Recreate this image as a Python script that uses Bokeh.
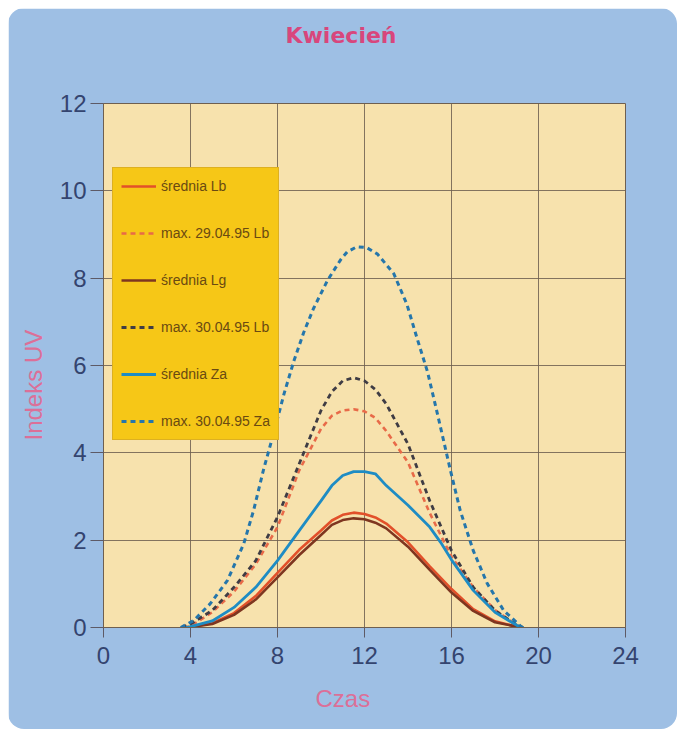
from bokeh.plotting import figure
from bokeh.models import Range1d, FixedTicker, Title
from bokeh.embed import file_html
from bokeh.resources import INLINE

# ---------------- data ----------------
title_text = "Kwiecień"
x_label = "Czas"
y_label = "Indeks UV"
x_ticks = [0, 4, 8, 12, 16, 20, 24]
y_ticks = [0, 2, 4, 6, 8, 10, 12]

series_names = ["średnia Lb", "max. 29.04.95 Lb", "średnia Lg",
                "max. 30.04.95 Lb", "średnia Za", "max. 30.04.95 Za"]

lb_mean_x = [3.8, 4, 5, 6, 7, 8, 9, 10, 10.5, 11, 11.5, 12, 12.5, 13, 14, 15, 16, 17, 18, 19, 19.2]
lb_mean_y = [0, 0.01, 0.1, 0.33, 0.72, 1.25, 1.78, 2.22, 2.45, 2.58, 2.63, 2.6, 2.52, 2.38, 1.95, 1.4, 0.88, 0.42, 0.14, 0.02, 0]

lb_max29_x = [3.7, 4, 5, 6, 7, 8, 9, 10, 10.5, 11, 11.5, 12, 12.5, 13, 14, 15, 16, 17, 18, 19, 19.3]
lb_max29_y = [0, 0.03, 0.35, 0.82, 1.45, 2.3, 3.6, 4.55, 4.85, 4.97, 5.0, 4.95, 4.8, 4.5, 3.78, 2.62, 1.62, 0.92, 0.4, 0.05, 0]

lg_mean_x = [3.8, 4, 5, 6, 7, 8, 9, 10, 10.5, 11, 11.5, 12, 12.5, 13, 14, 15, 16, 17, 18, 19, 19.2]
lg_mean_y = [0, 0.01, 0.08, 0.29, 0.64, 1.15, 1.66, 2.12, 2.35, 2.46, 2.5, 2.48, 2.4, 2.27, 1.85, 1.32, 0.8, 0.38, 0.12, 0.02, 0]

lb_max30_x = [3.6, 4, 5, 6, 7, 8, 9, 10, 10.5, 11, 11.5, 12, 12.5, 13, 14, 15, 16, 17, 18, 19, 19.3]
lb_max30_y = [0, 0.08, 0.39, 0.92, 1.53, 2.53, 3.75, 4.97, 5.4, 5.65, 5.72, 5.65, 5.45, 5.12, 4.2, 2.9, 1.76, 0.92, 0.39, 0.06, 0]

za_mean_x = [3.8, 4, 5, 6, 7, 8, 9, 10, 10.5, 11, 11.5, 12, 12.5, 13, 14, 15, 15.5, 16, 17, 18, 19, 19.3]
za_mean_y = [0, 0.02, 0.15, 0.46, 0.92, 1.53, 2.22, 2.9, 3.25, 3.48, 3.57, 3.57, 3.52, 3.25, 2.8, 2.3, 1.95, 1.55, 0.85, 0.35, 0.05, 0]

za_max30_x = [3.55, 4.15, 4.9, 5.7, 6.45, 6.9, 7.35, 7.85, 8.3, 8.75, 9.2, 9.65, 10.3, 10.9, 11.2, 11.65,
              12.1, 12.6, 13.35, 13.95, 14.4, 14.9, 15.35, 15.95, 16.4, 17.0, 17.65, 18.4, 19.25]
za_max30_y = [0, 0.16, 0.54, 1.08, 1.92, 2.68, 3.6, 4.5, 5.35, 6.1, 6.75, 7.3, 7.95, 8.42, 8.6, 8.72,
              8.7, 8.55, 8.1, 7.4, 6.65, 5.85, 4.9, 3.6, 2.68, 1.76, 1.0, 0.39, 0]

# ---------------- figure ----------------
p = figure(width=669, height=721, output_backend="svg", toolbar_location=None,
           x_range=Range1d(0, 24), y_range=Range1d(0, 12),
           min_border_left=95, min_border_right=52, min_border_top=95, min_border_bottom=102,
           border_fill_color="#9ebfe4", background_fill_color="#f7e2ad",
           outline_line_color="#6e5f50", outline_line_width=1)
p.styles = {"border-radius": "16px", "overflow": "hidden", "margin-left": "8px", "margin-top": "8px"}

tick_font = "Liberation Sans Narrow, Liberation Sans"
for ax, ticks in ((p.xaxis[0], x_ticks), (p.yaxis[0], y_ticks)):
    ax.ticker = FixedTicker(ticks=ticks)
    ax.major_label_text_font = tick_font
    ax.major_label_text_font_size = "24px"
    ax.major_label_text_color = "#34446f"
    ax.axis_line_color = "#6e5f50"
    ax.major_tick_line_color = "#5d5a66"
    ax.major_tick_in = 0
    ax.minor_tick_line_color = None
p.xaxis.major_tick_out = 10
p.xaxis.major_label_standoff = 9
p.yaxis.major_tick_out = 13
p.yaxis.major_label_standoff = 4

p.xgrid.ticker = FixedTicker(ticks=x_ticks)
p.ygrid.ticker = FixedTicker(ticks=y_ticks)
p.grid.grid_line_color = "#6e5f50"
p.grid.grid_line_width = 1
p.grid.grid_line_alpha = 0.85

styles = [
    (lb_mean_x, lb_mean_y, "#e2502a", "solid", 2.6),
    (lb_max29_x, lb_max29_y, "#e86a48", "5 4", 2.6),
    (lg_mean_x, lg_mean_y, "#7e3620", "solid", 2.6),
    (lb_max30_x, lb_max30_y, "#3f3c44", "5 4", 2.8),
    (za_mean_x, za_mean_y, "#1e8cc4", "solid", 2.8),
    (za_max30_x, za_max30_y, "#2576ab", "5 4", 3.0),
]
for name, (xs, ys, col, dash, w) in zip(series_names, styles):
    p.line(xs, ys, line_color=col, line_dash=dash, line_width=w, legend_label=name)

lg = p.legend[0]
lg.location = (9, 187)
lg.background_fill_color = "#f6c717"
lg.background_fill_alpha = 1.0
lg.border_line_color = "#c49a2c"
lg.border_line_width = 1
lg.label_text_font = "Liberation Sans"
lg.label_text_font_size = "14px"
lg.label_text_color = "#6a4a12"
lg.glyph_width = 35
lg.glyph_height = 20
lg.label_height = 20
lg.label_standoff = 5
lg.spacing = 27
lg.padding = 8
lg.margin = 0

# spacer between frame and title, then the title itself
p.add_layout(Title(text=" ", text_font_size="12px", standoff=40), "above")
p.add_layout(Title(text=title_text, align="left", offset=182, standoff=0,
                   text_font="DejaVu Sans", text_font_style="bold", text_font_size="22px",
                   text_color="#d8467c"), "above")
p.add_layout(Title(text=x_label, align="left", offset=212, standoff=32,
                   text_font="Liberation Sans", text_font_style="normal", text_font_size="24px",
                   text_color="#dc6f98"), "below")
p.add_layout(Title(text=y_label, align="left", offset=187, standoff=19,
                   text_font="Liberation Sans", text_font_style="normal", text_font_size="24px",
                   text_color="#dc6f98"), "left")

open("out.html", "w").write(file_html(p, INLINE))
